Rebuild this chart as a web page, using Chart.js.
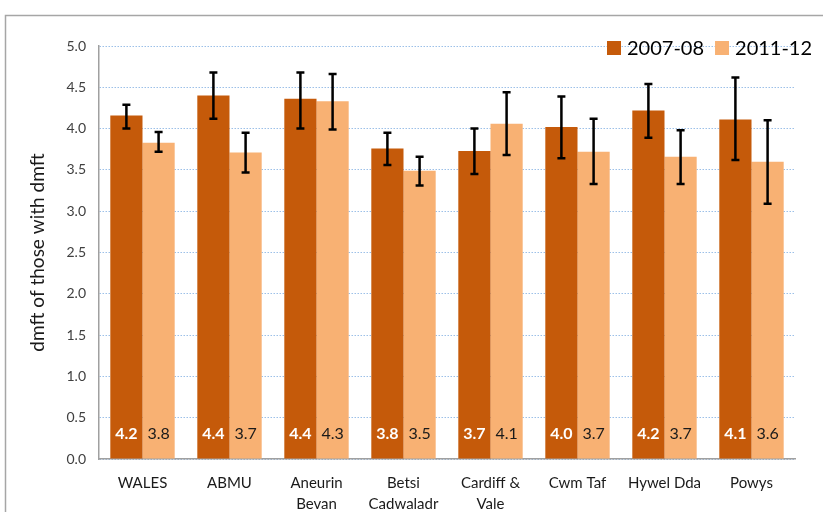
<!DOCTYPE html>
<html>
<head>
<meta charset="utf-8">
<script src="https://cdn.jsdelivr.net/npm/chart.js@4"></script>
<style>
  html, body { margin: 0; padding: 0; background: #fff; }
  #wrap { width: 823px; height: 512px; }
</style>
</head>
<body>
<div id="wrap"><canvas id="chart" width="823" height="512"></canvas></div>
<script>
// Data
const boards = [['WALES'], ['ABMU'], ['Aneurin', 'Bevan'], ['Betsi', 'Cadwaladr'], ['Cardiff &', 'Vale'], ['Cwm Taf'], ['Hywel Dda'], ['Powys']];
const seriesNames = ['2007-08', '2011-12'];
const dmft0708 = [4.16, 4.40, 4.36, 3.76, 3.73, 4.02, 4.22, 4.11];
const low0708  = [4.00, 4.12, 4.00, 3.56, 3.45, 3.64, 3.89, 3.62];
const high0708 = [4.29, 4.68, 4.68, 3.95, 4.00, 4.39, 4.54, 4.62];
const dmft1112 = [3.83, 3.71, 4.33, 3.49, 4.06, 3.72, 3.66, 3.60];
const low1112  = [3.72, 3.47, 3.99, 3.31, 3.68, 3.33, 3.33, 3.09];
const high1112 = [3.96, 3.95, 4.66, 3.66, 4.44, 4.12, 3.98, 4.10];
const yTicks = [0, 0.5, 1, 1.5, 2, 2.5, 3, 3.5, 4, 4.5, 5];

const darkOrange = '#C55A0A';
const lightOrange = '#F8B173';
const FONT = 'Lato, "Open Sans", sans-serif';

const errorLows = [low0708, low1112];
const errorHighs = [high0708, high1112];

// outer frame like the original slide box
const framePlugin = {
    id: 'frame',
    beforeDraw(chart) {
        const ctx = chart.ctx;
        ctx.save();
        ctx.strokeStyle = '#a6a6a6';
        ctx.lineWidth = 1.5;
        ctx.strokeRect(5.5, 15.5, 900, 600);
        ctx.restore();
    }
};

// error bars, value labels and legend
const extrasPlugin = {
    id: 'extras',
    afterDatasetsDraw(chart) {
        const ctx = chart.ctx;
        const y = chart.scales.y;
        ctx.save();
        chart.data.datasets.forEach((ds, di) => {
            const meta = chart.getDatasetMeta(di);
            meta.data.forEach((bar, i) => {
                // value label near the bottom of the bar
                ctx.font = (di === 0 ? 'bold ' : '') + '16px ' + FONT;
                ctx.fillStyle = di === 0 ? '#ffffff' : '#1a1a1a';
                ctx.textAlign = 'center';
                ctx.textBaseline = 'middle';
                ctx.fillText(ds.data[i].toFixed(1), bar.x, y.getPixelForValue(0) - 25);

                // error bar
                const yl = y.getPixelForValue(errorLows[di][i]);
                const yh = y.getPixelForValue(errorHighs[di][i]);
                ctx.strokeStyle = '#000';
                ctx.lineWidth = 2.5;
                ctx.beginPath();
                ctx.moveTo(bar.x, yl);
                ctx.lineTo(bar.x, yh);
                ctx.moveTo(bar.x - 4, yl);
                ctx.lineTo(bar.x + 4, yl);
                ctx.moveTo(bar.x - 4, yh);
                ctx.lineTo(bar.x + 4, yh);
                ctx.stroke();
            });
        });

        // legend, top right inside the plot
        ctx.font = '20px ' + FONT;
        ctx.textAlign = 'left';
        ctx.textBaseline = 'middle';
        let x = 607;
        const ly = 48;
        chart.data.datasets.forEach((ds) => {
            ctx.fillStyle = ds.backgroundColor;
            ctx.fillRect(x, ly - 7, 14, 14);
            ctx.fillStyle = '#000';
            ctx.fillText(ds.label, x + 20, ly + 1);
            x += 20 + ctx.measureText(ds.label).width + 11;
        });
        ctx.restore();
    }
};

new Chart(document.getElementById('chart'), {
    type: 'bar',
    data: {
        labels: boards,
        datasets: [
            { label: seriesNames[0], data: dmft0708, backgroundColor: darkOrange },
            { label: seriesNames[1], data: dmft1112, backgroundColor: lightOrange }
        ]
    },
    options: {
        responsive: false,
        animation: false,
        layout: { padding: { left: 5, right: 28, top: 46, bottom: 0 } },
        categoryPercentage: 0.74,
        barPercentage: 1.0,
        plugins: {
            legend: { display: false },
            tooltip: { enabled: false }
        },
        scales: {
            x: {
                grid: { display: false, drawTicks: false },
                border: { display: true, color: '#a0a0a0', width: 1.5 },
                ticks: {
                    color: '#1a1a1a',
                    padding: 14,
                    maxRotation: 0,
                    autoSkip: false,
                    font: { family: FONT, size: 15, lineHeight: 1.4 }
                },
                afterFit(scale) { scale.height = 53; }
            },
            y: {
                min: 0,
                max: 5,
                afterBuildTicks(scale) { scale.ticks = yTicks.map(v => ({ value: v })); },
                grid: { color: '#9cc0e8', lineWidth: 1, drawTicks: false },
                border: { display: true, color: '#a0a0a0', width: 1.5, dash: [1.5, 1.5] },
                ticks: {
                    color: '#404040',
                    padding: 13,
                    font: { family: FONT, size: 14 },
                    callback: v => v.toFixed(1)
                },
                title: {
                    display: true,
                    text: 'dmft of those with dmft',
                    color: '#1a1a1a',
                    font: { family: FONT, size: 19 },
                    padding: { top: 21, bottom: 0 }
                },
                afterFit(scale) { scale.width = 94; }
            }
        }
    },
    plugins: [framePlugin, extrasPlugin]
});
</script>
</body>
</html>
